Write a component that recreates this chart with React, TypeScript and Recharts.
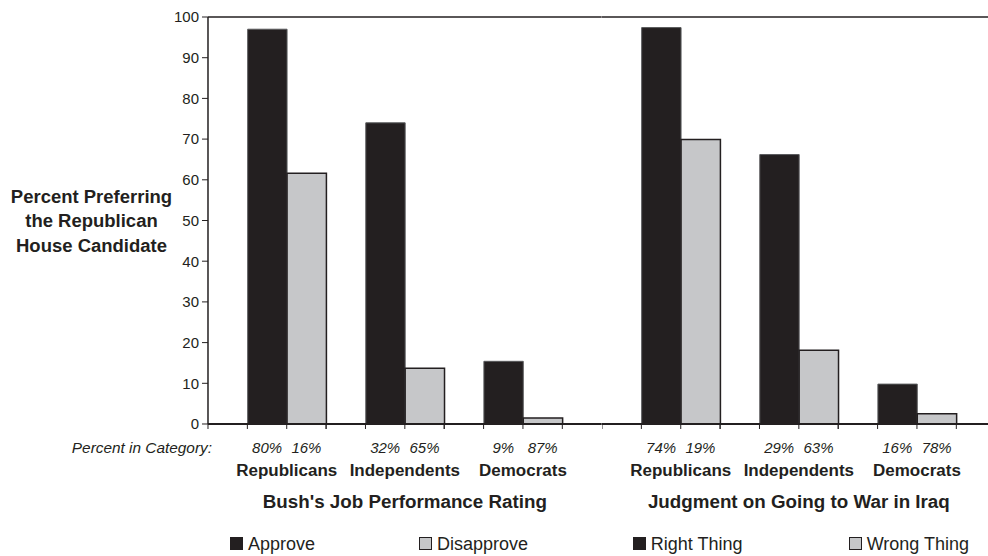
import React from 'react';
import { BarChart, Bar, XAxis, YAxis, ReferenceLine, Legend, Label } from 'recharts';

// values
const parties = ['Republicans', 'Independents', 'Democrats'];

const bushApprove = [97, 74, 15.4];
const bushDisapprove = [61.6, 13.7, 1.5];
const bushShareApprove = ['80%', '32%', '9%'];
const bushShareDisapprove = ['16%', '65%', '87%'];

const iraqRight = [97.4, 66.2, 9.8];
const iraqWrong = [69.9, 18.1, 2.5];
const iraqShareRight = ['74%', '29%', '16%'];
const iraqShareWrong = ['19%', '63%', '78%'];

const yTicks = [0, 10, 20, 30, 40, 50, 60, 70, 80, 90, 100];

const INK = '#231f20';
const GREY = '#c6c7c9';
const FONT = '"Liberation Sans", Arial, Helvetica, sans-serif';

// layout
const SLOT = 39.37; // one bar width
const Y_AXIS_W = 208;
const PANEL_W = SLOT * 10;
const H = 556;

const buildRows = (a: number[], b: number[]) =>
  parties.map((party, i) => ({ party, a: a[i], b: b[i] }));

const bushRows = buildRows(bushApprove, bushDisapprove);
const iraqRows = buildRows(iraqRight, iraqWrong);

const makeTick = (shareA: string[], shareB: string[]) => (props: any) => {
  const { x, y, payload, index } = props;
  return (
    <g>
      {[-2, -1, 0, 1].map((k) => (
        <line key={k} x1={x + k * SLOT} x2={x + k * SLOT} y1={y} y2={y + 5} stroke={INK} strokeWidth={1} />
      ))}
      <text x={x - SLOT / 2} y={y + 29} textAnchor="middle" fontStyle="italic" fontSize={15} fill={INK}>
        {shareA[index]}
      </text>
      <text x={x + SLOT / 2} y={y + 29} textAnchor="middle" fontStyle="italic" fontSize={15} fill={INK}>
        {shareB[index]}
      </text>
      <text x={x} y={y + 52} textAnchor="middle" fontWeight="bold" fontSize={17} fill={INK}>
        {payload.value}
      </text>
    </g>
  );
};

const makeTitle = (title: string, withRowLabel: boolean) => (props: any) => {
  const vb = props.viewBox || {};
  return (
    <g>
      <text x={vb.x + vb.width / 2} y={vb.y + 84} textAnchor="middle" fontWeight="bold" fontSize={18.8} fill={INK}>
        {title}
      </text>
      {withRowLabel && (
        <text x={vb.x + 4} y={vb.y + 29} textAnchor="end" fontStyle="italic" fontSize={15.4} fill={INK}>
          Percent in Category:
        </text>
      )}
    </g>
  );
};

const yTitle = (props: any) => {
  const vb = props.viewBox || {};
  const cx = vb.x + 91.5;
  const cy = vb.y + vb.height / 2 + 7;
  const lines = ['Percent Preferring', 'the Republican', 'House Candidate'];
  return (
    <g>
      {lines.map((l, i) => (
        <text key={l} x={cx} y={cy + (i - 1) * 24.5} textAnchor="middle" fontWeight="bold" fontSize={18.5} fill={INK}>
          {l}
        </text>
      ))}
    </g>
  );
};

const makeLegend = (xs: number[]) => (props: any) => {
  const payload = props.payload || [];
  return (
    <div style={{ position: 'relative', height: 30 }}>
      {payload.map((p: any, i: number) => (
        <span
          key={p.value}
          style={{
            position: 'absolute',
            left: xs[i],
            top: 9,
            fontSize: 18,
            lineHeight: '18px',
            whiteSpace: 'nowrap',
            color: INK,
          }}
        >
          <span
            style={{
              display: 'inline-block',
              width: 13,
              height: 13,
              boxSizing: 'border-box',
              background: p.color,
              border: `1px solid ${INK}`,
              marginRight: 5,
            }}
          />
          {p.value}
        </span>
      ))}
    </div>
  );
};

function Panel(props: {
  rows: { party: string; a: number; b: number }[];
  names: string[];
  shares: string[][];
  title: string;
  legendX: number[];
  first: boolean;
}) {
  const { rows, names, shares, title, legendX, first } = props;
  const width = (first ? Y_AXIS_W : 0) + PANEL_W;
  return (
    <BarChart
      width={width}
      height={H}
      data={rows}
      margin={{ top: 17, right: 0, bottom: 0, left: 0 }}
      barGap={0}
    >
      <XAxis
        dataKey="party"
        height={102}
        interval={0}
        tickSize={0}
        tickMargin={0}
        tickLine={false}
        padding={{ left: SLOT / 2, right: SLOT / 2 }}
        axisLine={{ stroke: INK, strokeWidth: 1.8 }}
        tick={makeTick(shares[0], shares[1])}
      >
        <Label content={makeTitle(title, first)} />
      </XAxis>
      <YAxis
        hide={!first}
        width={first ? Y_AXIS_W : 0}
        domain={[0, 100]}
        ticks={yTicks}
        interval={0}
        tickSize={6}
        tickMargin={3}
        tick={{ fill: INK, fontSize: 15 }}
        tickLine={{ stroke: INK }}
        axisLine={{ stroke: INK, strokeWidth: 1.5 }}
      >
        <Label content={yTitle} />
      </YAxis>
      <ReferenceLine y={100} stroke={INK} strokeWidth={1.5} />
      <Legend verticalAlign="bottom" content={makeLegend(legendX)} />
      <Bar dataKey="a" name={names[0]} fill={INK} stroke="#58595b" strokeWidth={1} barSize={SLOT} isAnimationActive={false} />
      <Bar dataKey="b" name={names[1]} fill={GREY} stroke={INK} strokeWidth={1.5} barSize={SLOT} isAnimationActive={false} />
    </BarChart>
  );
}

export default function App() {
  return (
    <div
      style={{
        position: 'absolute',
        left: 0,
        top: 0,
        width: 988,
        height: H,
        overflow: 'hidden',
        background: '#fff',
        fontFamily: FONT,
      }}
    >
      <div style={{ position: 'absolute', left: 0, top: 0 }}>
        <Panel
          rows={bushRows}
          names={['Approve', 'Disapprove']}
          shares={[bushShareApprove, bushShareDisapprove]}
          title="Bush's Job Performance Rating"
          legendX={[230, 419]}
          first
        />
      </div>
      <div style={{ position: 'absolute', left: Y_AXIS_W + PANEL_W, top: 0 }}>
        <Panel
          rows={iraqRows}
          names={['Right Thing', 'Wrong Thing']}
          shares={[iraqShareRight, iraqShareWrong]}
          title="Judgment on Going to War in Iraq"
          legendX={[31, 247]}
          first={false}
        />
      </div>
    </div>
  );
}
